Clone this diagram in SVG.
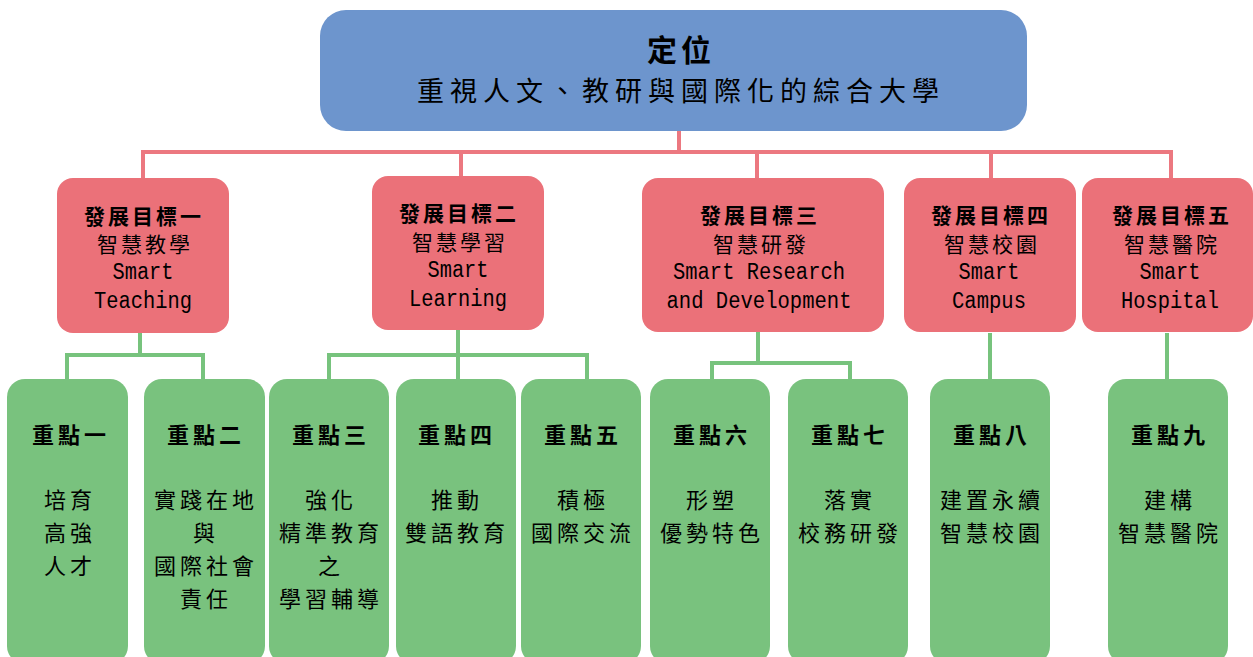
<svg xmlns="http://www.w3.org/2000/svg" width="1253" height="657" viewBox="0 0 1253 657">
<style>
.top{fill:#6D95CD}
.goal{fill:#EB7179}
.pt{fill:#79C27E}
.rl{fill:none;stroke:#EC7880;stroke-width:4}
.gl{fill:none;stroke:#77C37D;stroke-width:4}
text{font-family:"Noto Sans CJK TC","Liberation Serif",serif;fill:#000;text-anchor:middle;dominant-baseline:central}
.t1{font-size:30px;font-weight:bold;letter-spacing:4px}
.t2{font-size:27px;letter-spacing:6px}
.gh{font-size:21px;font-weight:bold;letter-spacing:3px}
.gc{font-size:21px;letter-spacing:3px}
.en{font-family:"Liberation Mono",monospace;font-size:23px}
.ph{font-size:22px;font-weight:bold;letter-spacing:4px}
.pb{font-size:22px;letter-spacing:4px}
</style>
<g id="connectors">
<path class="rl" d="M679 131V152M143 178V152H1171V178M461 152V176M757 152V178M991 152V178"/>
<path class="gl" d="M140 333V355M67 380V355H203V380"/>
<path class="gl" d="M458 330V380M329 380V355H587V380"/>
<path class="gl" d="M758 332V363M712 380V363H850V380"/>
<path class="gl" d="M990 333V380M1167 333V380"/>
</g>
<g id="root">
<rect class="top" x="320" y="10" width="707" height="121" rx="26"/>
<text class="t1" x="681" y="48">定位</text>
<text class="t2" x="681" y="89">重視人文、教研與國際化的綜合大學</text>
</g>
<g id="goal1">
<rect class="goal" x="57" y="178" width="172" height="155" rx="16"/>
<text class="gh" x="144" y="215">發展目標一</text>
<text class="gc" x="145" y="243">智慧教學</text>
<text class="en" x="143" y="273" textLength="61" lengthAdjust="spacingAndGlyphs">Smart</text>
<text class="en" x="143" y="302" textLength="98" lengthAdjust="spacingAndGlyphs">Teaching</text>
</g>
<g id="goal2">
<rect class="goal" x="372" y="176" width="172" height="154" rx="16"/>
<text class="gh" x="459" y="212">發展目標二</text>
<text class="gc" x="460" y="241">智慧學習</text>
<text class="en" x="458" y="271" textLength="61" lengthAdjust="spacingAndGlyphs">Smart</text>
<text class="en" x="458" y="300" textLength="98" lengthAdjust="spacingAndGlyphs">Learning</text>
</g>
<g id="goal3">
<rect class="goal" x="642" y="178" width="242" height="154" rx="16"/>
<text class="gh" x="760" y="214">發展目標三</text>
<text class="gc" x="761" y="243">智慧研發</text>
<text class="en" x="759" y="273" textLength="172" lengthAdjust="spacingAndGlyphs">Smart Research</text>
<text class="en" x="759" y="302" textLength="185" lengthAdjust="spacingAndGlyphs">and Development</text>
</g>
<g id="goal4">
<rect class="goal" x="904" y="178" width="172" height="154" rx="16"/>
<text class="gh" x="991" y="214">發展目標四</text>
<text class="gc" x="992" y="243">智慧校園</text>
<text class="en" x="989" y="273" textLength="61" lengthAdjust="spacingAndGlyphs">Smart</text>
<text class="en" x="989" y="302" textLength="74" lengthAdjust="spacingAndGlyphs">Campus</text>
</g>
<g id="goal5">
<rect class="goal" x="1082" y="178" width="171" height="154" rx="16"/>
<text class="gh" x="1172" y="214">發展目標五</text>
<text class="gc" x="1172" y="243">智慧醫院</text>
<text class="en" x="1170" y="273" textLength="61" lengthAdjust="spacingAndGlyphs">Smart</text>
<text class="en" x="1170" y="302" textLength="98" lengthAdjust="spacingAndGlyphs">Hospital</text>
</g>
<g id="point1">
<rect class="pt" x="7" y="379" width="121" height="285" rx="18"/>
<text class="ph" x="71" y="433">重點一</text>
<text class="pb" x="70" y="498">培育</text>
<text class="pb" x="70" y="531">高強</text>
<text class="pb" x="70" y="564">人才</text>
</g>
<g id="point2">
<rect class="pt" x="144" y="379" width="121" height="285" rx="18"/>
<text class="ph" x="206" y="433">重點二</text>
<text class="pb" x="206" y="498">實踐在地</text>
<text class="pb" x="206" y="531">與</text>
<text class="pb" x="206" y="564">國際社會</text>
<text class="pb" x="206" y="597">責任</text>
</g>
<g id="point3">
<rect class="pt" x="269" y="379" width="120" height="285" rx="18"/>
<text class="ph" x="331" y="433">重點三</text>
<text class="pb" x="331" y="498">強化</text>
<text class="pb" x="331" y="531">精準教育</text>
<text class="pb" x="331" y="564">之</text>
<text class="pb" x="331" y="597">學習輔導</text>
</g>
<g id="point4">
<rect class="pt" x="396" y="379" width="120" height="285" rx="18"/>
<text class="ph" x="457" y="433">重點四</text>
<text class="pb" x="457" y="498">推動</text>
<text class="pb" x="457" y="531">雙語教育</text>
</g>
<g id="point5">
<rect class="pt" x="521" y="379" width="120" height="285" rx="18"/>
<text class="ph" x="583" y="433">重點五</text>
<text class="pb" x="583" y="498">積極</text>
<text class="pb" x="583" y="531">國際交流</text>
</g>
<g id="point6">
<rect class="pt" x="650" y="379" width="120" height="285" rx="18"/>
<text class="ph" x="712" y="433">重點六</text>
<text class="pb" x="712" y="498">形塑</text>
<text class="pb" x="712" y="531">優勢特色</text>
</g>
<g id="point7">
<rect class="pt" x="788" y="379" width="120" height="285" rx="18"/>
<text class="ph" x="850" y="433">重點七</text>
<text class="pb" x="850" y="498">落實</text>
<text class="pb" x="850" y="531">校務研發</text>
</g>
<g id="point8">
<rect class="pt" x="930" y="379" width="120" height="285" rx="18"/>
<text class="ph" x="992" y="433">重點八</text>
<text class="pb" x="992" y="498">建置永續</text>
<text class="pb" x="992" y="531">智慧校園</text>
</g>
<g id="point9">
<rect class="pt" x="1108" y="379" width="120" height="285" rx="18"/>
<text class="ph" x="1170" y="433">重點九</text>
<text class="pb" x="1170" y="498">建構</text>
<text class="pb" x="1170" y="531">智慧醫院</text>
</g>
</svg>
